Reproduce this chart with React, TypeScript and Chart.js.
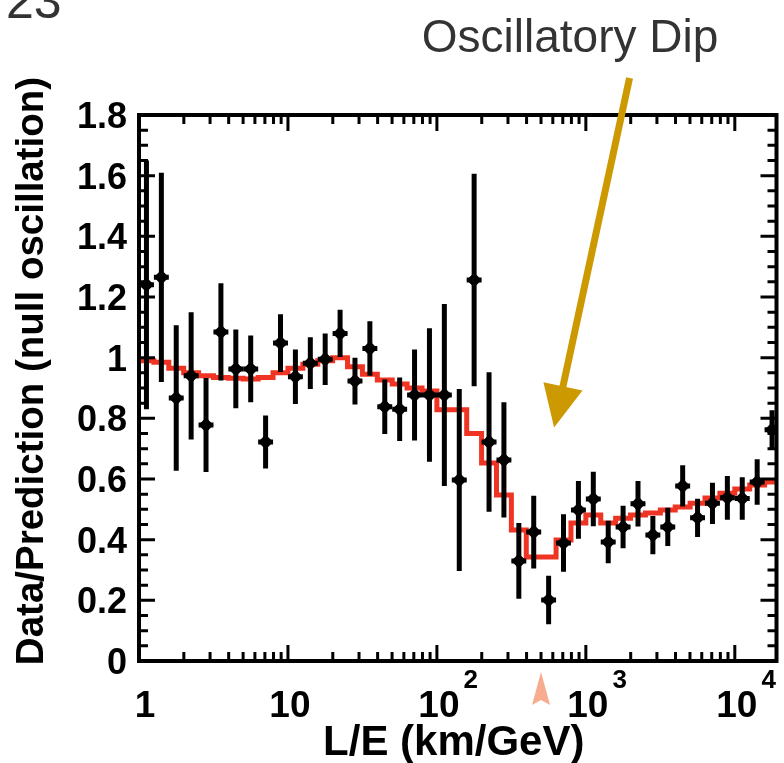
import React, { useEffect, useRef } from "react";
import { Chart, registerables } from "chart.js";

Chart.register(...registerables);

// ---------- data ----------
// L/E bin centres (km/GeV), 0.1-decade bins
const binCentersLE = [
  1.122, 1.413, 1.778, 2.239, 2.818, 3.548, 4.467, 5.623, 7.079, 8.913,
  11.22, 14.13, 17.78, 22.39, 28.18, 35.48, 44.67, 56.23, 70.79, 89.13,
  112.2, 141.3, 177.8, 223.9, 281.8, 354.8, 446.7, 562.3, 707.9, 891.3,
  1122, 1413, 1778, 2239, 2818, 3548, 4467, 5623, 7079, 8913,
  11220, 14130, 17780,
];
// L/E bin edges (km/GeV)
const binEdgesLE = [
  1, 1.259, 1.585, 1.995, 2.512, 3.162, 3.981, 5.012, 6.31, 7.943,
  10, 12.59, 15.85, 19.95, 25.12, 31.62, 39.81, 50.12, 63.1, 79.43,
  100, 125.9, 158.5, 199.5, 251.2, 316.2, 398.1, 501.2, 631.0, 794.3,
  1000, 1259, 1585, 1995, 2512, 3162, 3981, 5012, 6310, 7943,
  10000, 12590, 15850, 19950,
];
// Data / prediction (null oscillation)
const dataRatio = [
  1.24, 1.265, 0.867, 0.94, 0.778, 1.085, 0.963, 0.963, 0.722, 1.048,
  0.937, 0.982, 0.995, 1.08, 0.923, 1.03, 0.838, 0.83, 0.877, 0.877,
  0.877, 0.597, 1.256, 0.722, 0.663, 0.33, 0.425, 0.201, 0.389, 0.498,
  0.534, 0.392, 0.442, 0.518, 0.415, 0.442, 0.577, 0.472, 0.52, 0.538,
  0.536, 0.59, 0.762,
];
const dataError = [
  0.41, 0.345, 0.24, 0.21, 0.155, 0.16, 0.13, 0.11, 0.087, 0.095,
  0.09, 0.085, 0.085, 0.078, 0.077, 0.09, 0.09, 0.105, 0.15, 0.22,
  0.3, 0.3, 0.35, 0.23, 0.19, 0.125, 0.12, 0.08, 0.095, 0.095,
  0.09, 0.07, 0.07, 0.075, 0.063, 0.063, 0.068, 0.063, 0.068, 0.072,
  0.07, 0.075, 0.065,
];
// Best-fit oscillation expectation (histogram, one value per bin)
const predRatio = [
  0.99, 0.985, 0.965, 0.95, 0.94, 0.935, 0.932, 0.93, 0.935, 0.95,
  0.965, 0.978, 0.99, 1.0, 0.97, 0.945, 0.926, 0.913, 0.9, 0.89,
  0.828, 0.828, 0.75, 0.653, 0.547, 0.432, 0.343, 0.343, 0.399, 0.455,
  0.481, 0.455, 0.471, 0.481, 0.488, 0.498, 0.508, 0.52, 0.537, 0.553,
  0.567, 0.58, 0.59,
];

const xMin = 1;
const xMax = 19050;
const yMin = 0;
const yMax = 1.8;
const xMajorTicks = [1, 10, 100, 1000, 10000];
const xTickBase = ["1", "10", "10", "10", "10"];
const xTickExp = ["", "", "2", "3", "4"];
const yMajorTicks = [0, 0.2, 0.4, 0.6, 0.8, 1, 1.2, 1.4, 1.6, 1.8];
const yTickLabels = ["0", "0.2", "0.4", "0.6", "0.8", "1", "1.2", "1.4", "1.6", "1.8"];
const yMinorStep = 0.05;

const xTitle = "L/E (km/GeV)";
const yTitle = "Data/Prediction (null oscillation)";
const annotationText = "Oscillatory Dip";
const pageNumber = "23";
// annotation anchors in data coordinates
const arrowStart = { x: 1965, y: 1.922 };
const arrowTip = { x: 612, y: 0.77 };
const markerLE = 500;

// ---------- styles ----------
const FONT = '"Liberation Sans", Arial, Helvetica, sans-serif';
const RED = "#ef3423";
const GOLD = "#cc9900";
const SALMON = "#f7ab8f";

const overlayPlugin = {
  id: "overlay",
  beforeDatasetDraw(chart: any, args: any) {
    if (args.index !== 1) return;
    const { ctx, chartArea } = chart;
    const xs = chart.scales.x;
    const ys = chart.scales.y;
    ctx.save();
    ctx.beginPath();
    ctx.rect(chartArea.left, chartArea.top, chartArea.right - chartArea.left, chartArea.bottom - chartArea.top);
    ctx.clip();
    ctx.strokeStyle = "#000";
    ctx.lineWidth = 5;
    ctx.lineCap = "butt";
    for (let i = 0; i < dataRatio.length; i++) {
      const px = xs.getPixelForValue(binCentersLE[i]);
      const y0 = ys.getPixelForValue(dataRatio[i] - dataError[i]);
      const y1 = ys.getPixelForValue(dataRatio[i] + dataError[i]);
      const py = ys.getPixelForValue(dataRatio[i]);
      const xl = xs.getPixelForValue(binEdgesLE[i]);
      const xr = xs.getPixelForValue(binEdgesLE[i + 1]);
      ctx.beginPath();
      ctx.moveTo(px, y0);
      ctx.lineTo(px, y1);
      ctx.moveTo(xl, py);
      ctx.lineTo(xr, py);
      ctx.stroke();
    }
    ctx.restore();
  },
  afterDatasetsDraw(chart: any) {
    const { ctx, chartArea } = chart;
    const xs = chart.scales.x;
    const ys = chart.scales.y;
    const { left, right, top, bottom } = chartArea;
    ctx.save();
    // frame
    ctx.strokeStyle = "#000";
    ctx.lineWidth = 4;
    ctx.strokeRect(left, top, right - left, bottom - top);
    // x ticks (inward, bottom and top)
    ctx.lineWidth = 3;
    ctx.beginPath();
    for (let d = 1; d <= 10000; d *= 10) {
      for (let m = 1; m <= 9; m++) {
        const v = d * m;
        if (v <= xMin || v >= xMax) continue;
        const px = xs.getPixelForValue(v);
        const len = m === 1 ? 16 : 9;
        ctx.moveTo(px, bottom);
        ctx.lineTo(px, bottom - len);
        ctx.moveTo(px, top);
        ctx.lineTo(px, top + len);
      }
    }
    // y ticks (inward, left and right)
    const nMinor = Math.round((yMax - yMin) / yMinorStep);
    for (let j = 1; j < nMinor; j++) {
      const v = yMin + j * yMinorStep;
      const py = ys.getPixelForValue(v);
      const len = j % 4 === 0 ? 16 : 9;
      ctx.moveTo(left, py);
      ctx.lineTo(left + len, py);
      ctx.moveTo(right, py);
      ctx.lineTo(right - len, py);
    }
    ctx.stroke();

    // y tick labels
    ctx.fillStyle = "#000";
    ctx.font = `bold 36px ${FONT}`;
    ctx.textAlign = "right";
    ctx.textBaseline = "alphabetic";
    yMajorTicks.forEach((v, i) => {
      const py = ys.getPixelForValue(v);
      ctx.fillText(yTickLabels[i], left - 12, py + 13);
    });
    // x tick labels
    xMajorTicks.forEach((v, i) => {
      const px = xs.getPixelForValue(v);
      ctx.font = `bold 37px ${FONT}`;
      ctx.textAlign = "center";
      ctx.fillText(xTickBase[i], px + (i === 0 ? 6 : 2), bottom + 56);
      if (xTickExp[i]) {
        const w = ctx.measureText(xTickBase[i]).width;
        ctx.font = `bold 26px ${FONT}`;
        ctx.textAlign = "left";
        ctx.fillText(xTickExp[i], px + 2 + w / 2 + 4, bottom + 27);
      }
    });
    // axis titles
    ctx.font = `bold 42px ${FONT}`;
    ctx.textAlign = "center";
    ctx.fillText(xTitle, (left + right) / 2 - 4, bottom + 94);
    ctx.save();
    ctx.translate(43, (top + bottom) / 2 - 17);
    ctx.rotate(-Math.PI / 2);
    ctx.font = `bold 38.5px ${FONT}`;
    ctx.fillText(yTitle, 0, 0);
    ctx.restore();

    // page number and annotation text
    ctx.fillStyle = "#333";
    ctx.font = `50px ${FONT}`;
    ctx.textAlign = "left";
    ctx.fillText(pageNumber, 6, 18);
    ctx.font = `46px ${FONT}`;
    ctx.textAlign = "center";
    ctx.fillText(annotationText, 570, 52);

    // gold arrow
    const sx = xs.getPixelForValue(arrowStart.x);
    const sy = ys.getPixelForValue(arrowStart.y);
    const tx = xs.getPixelForValue(arrowTip.x);
    const ty = ys.getPixelForValue(arrowTip.y);
    const dx = tx - sx;
    const dy = ty - sy;
    const L = Math.hypot(dx, dy);
    const ux = dx / L;
    const uy = dy / L;
    const headLen = 42;
    const headHalf = 20;
    const bx = tx - ux * headLen;
    const by = ty - uy * headLen;
    ctx.strokeStyle = GOLD;
    ctx.fillStyle = GOLD;
    ctx.lineWidth = 7;
    ctx.beginPath();
    ctx.moveTo(sx, sy);
    ctx.lineTo(bx + ux * 4, by + uy * 4);
    ctx.stroke();
    ctx.beginPath();
    ctx.moveTo(tx, ty);
    ctx.lineTo(bx - uy * headHalf, by + ux * headHalf);
    ctx.lineTo(bx + uy * headHalf, by - ux * headHalf);
    ctx.closePath();
    ctx.fill();

    // salmon marker under the axis
    const mx = xs.getPixelForValue(markerLE);
    ctx.fillStyle = SALMON;
    ctx.beginPath();
    ctx.moveTo(mx, bottom + 11);
    ctx.lineTo(mx + 9, bottom + 44);
    ctx.lineTo(mx, bottom + 39);
    ctx.lineTo(mx - 9, bottom + 44);
    ctx.closePath();
    ctx.fill();
    ctx.restore();
  },
};

export default function App() {
  const canvasRef = useRef<HTMLCanvasElement | null>(null);

  useEffect(() => {
    const canvas = canvasRef.current;
    if (!canvas) return;
    const histData = binEdgesLE.map((e, i) => ({
      x: e,
      y: predRatio[Math.min(i, predRatio.length - 1)],
    }));
    const pointData = binCentersLE.map((c, i) => ({ x: c, y: dataRatio[i] }));
    const chart = new Chart(canvas, {
      type: "scatter",
      data: {
        datasets: [
          {
            type: "line",
            label: "Expectation",
            data: histData,
            stepped: "before",
            borderColor: RED,
            borderWidth: 5,
            pointRadius: 0,
            fill: false,
            order: 2,
          } as any,
          {
            type: "scatter",
            label: "Data",
            data: pointData,
            pointStyle: "rectRot",
            pointRadius: 7.5,
            backgroundColor: "#000",
            borderColor: "#000",
            borderWidth: 0,
            order: 1,
          } as any,
        ],
      },
      options: {
        responsive: false,
        animation: false,
        devicePixelRatio: 1,
        layout: { padding: { left: 139, top: 115, right: 3, bottom: 102 } },
        scales: {
          x: { type: "logarithmic", min: xMin, max: xMax, display: false },
          y: { type: "linear", min: yMin, max: yMax, display: false },
        },
        plugins: {
          legend: { display: false },
          tooltip: { enabled: false },
        },
      } as any,
      plugins: [overlayPlugin as any],
    });
    return () => chart.destroy();
  }, []);

  return (
    <div style={{ position: "fixed", left: 0, top: 0, width: 784, height: 763, background: "#fff" }}>
      <canvas ref={canvasRef} width={784} height={763} style={{ display: "block" }} />
    </div>
  );
}
